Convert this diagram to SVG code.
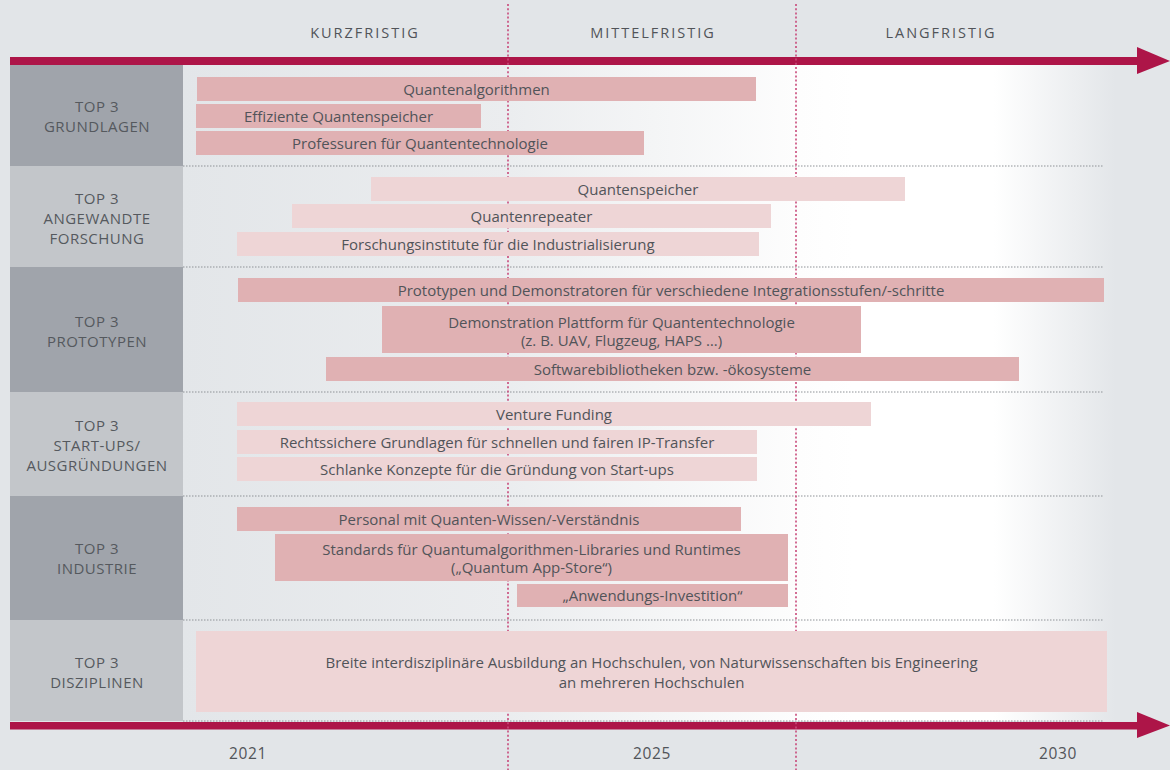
<svg xmlns="http://www.w3.org/2000/svg" width="1170" height="770" viewBox="0 0 1170 770">
<defs>
<linearGradient id="bgGrad" gradientUnits="userSpaceOnUse" x1="183" y1="0" x2="1115" y2="0">
<stop offset="0" stop-color="#e3e6e9"/>
<stop offset="0.35" stop-color="#ebedef"/>
<stop offset="0.66" stop-color="#fdfdfd"/>
<stop offset="0.72" stop-color="#ffffff"/>
<stop offset="0.87" stop-color="#ffffff"/>
<stop offset="1" stop-color="#e3e6e9"/>
</linearGradient>
<style>
.t{font-family:"Open Sans","Liberation Sans",sans-serif;font-size:15px;fill:#515459;text-anchor:middle}
.lab{font-family:"Open Sans","Liberation Sans",sans-serif;font-size:15px;fill:#55595e;text-anchor:middle;letter-spacing:0.5px}
.hdr{font-family:"Open Sans","Liberation Sans",sans-serif;font-size:14.5px;fill:#515459;text-anchor:middle;letter-spacing:2px}
.yr{font-family:"Open Sans","Liberation Sans",sans-serif;font-size:15.5px;fill:#515459;text-anchor:middle;letter-spacing:0.6px}
.d{fill:#e0b1b3}
.l{fill:#eed5d6}
.cd{fill:#a0a4ab}
.cl{fill:#c3c6ca}
.sep{stroke:#8e9297;stroke-width:1;stroke-dasharray:1.5 1.5;fill:none}
.vl{stroke:#c9497a;stroke-width:1.6;stroke-dasharray:2 2.2;fill:none}
.ax{fill:#ad1548}
</style>
</defs>
<rect x="0" y="0" width="1170" height="770" fill="#e2e5e8"/>
<rect x="183" y="65" width="987" height="656" fill="url(#bgGrad)"/>

<g id="headers">
<text class="hdr" x="365" y="38">KURZFRISTIG</text>
<text class="hdr" x="653" y="38">MITTELFRISTIG</text>
<text class="hdr" x="941" y="38">LANGFRISTIG</text>
</g>
<g id="years">
<text class="yr" x="248" y="759">2021</text>
<text class="yr" x="652" y="759">2025</text>
<text class="yr" x="1058" y="759">2030</text>
</g>

<g id="connectors">
<line class="sep" x1="183" y1="166" x2="1104" y2="166"/>
<line class="sep" x1="183" y1="267" x2="1104" y2="267"/>
<line class="sep" x1="183" y1="392" x2="1104" y2="392"/>
<line class="sep" x1="183" y1="496" x2="1104" y2="496"/>
<line class="sep" x1="183" y1="620" x2="1104" y2="620"/>
<line class="sep" x1="183" y1="721" x2="1104" y2="721"/>
<rect class="ax" x="10" y="57" width="1130" height="8"/>
<polygon class="ax" points="1137,47 1170,61 1137,74"/>
<rect class="ax" x="10" y="722" width="1130" height="7.5"/>
<polygon class="ax" points="1137,712 1170,725.5 1137,738"/>
<line class="vl" x1="508" y1="4" x2="508" y2="770"/>
<line class="vl" x1="796" y1="4" x2="796" y2="770"/>
</g>

<g id="row-grundlagen">
<rect class="cd" x="10" y="65" width="173" height="101"/>
<text class="lab" x="97" y="112">TOP 3</text>
<text class="lab" x="97" y="132">GRUNDLAGEN</text>
</g>
<g id="row-angewandte">
<rect class="cl" x="10" y="166" width="173" height="101"/>
<text class="lab" x="97" y="204">TOP 3</text>
<text class="lab" x="97" y="224">ANGEWANDTE</text>
<text class="lab" x="97" y="244">FORSCHUNG</text>
</g>
<g id="row-prototypen">
<rect class="cd" x="10" y="267" width="173" height="125"/>
<text class="lab" x="97" y="327">TOP 3</text>
<text class="lab" x="97" y="347">PROTOTYPEN</text>
</g>
<g id="row-startups">
<rect class="cl" x="10" y="392" width="173" height="104"/>
<text class="lab" x="97" y="431">TOP 3</text>
<text class="lab" x="97" y="451">START-UPS/</text>
<text class="lab" x="97" y="471">AUSGRÜNDUNGEN</text>
</g>
<g id="row-industrie">
<rect class="cd" x="10" y="496" width="173" height="124"/>
<text class="lab" x="97" y="554">TOP 3</text>
<text class="lab" x="97" y="574">INDUSTRIE</text>
</g>
<g id="row-disziplinen">
<rect class="cl" x="10" y="620" width="173" height="101"/>
<text class="lab" x="97" y="668">TOP 3</text>
<text class="lab" x="97" y="688">DISZIPLINEN</text>
</g>

<g id="bar-quantenalgorithmen"><rect class="d" x="197" y="77" width="559" height="24"/><text class="t" x="476.5" y="94.5">Quantenalgorithmen</text></g>
<g id="bar-quantenspeicher-eff"><rect class="d" x="196" y="104" width="285" height="24"/><text class="t" x="338.5" y="121.5">Effiziente Quantenspeicher</text></g>
<g id="bar-professuren"><rect class="d" x="196" y="131" width="448" height="24"/><text class="t" x="420" y="148.5">Professuren für Quantentechnologie</text></g>

<g id="bar-quantenspeicher"><rect class="l" x="371" y="177" width="534" height="24"/><text class="t" x="638" y="194.5">Quantenspeicher</text></g>
<g id="bar-quantenrepeater"><rect class="l" x="292" y="204" width="479" height="24"/><text class="t" x="531.5" y="221.5">Quantenrepeater</text></g>
<g id="bar-forschungsinstitute"><rect class="l" x="237" y="232" width="522" height="24"/><text class="t" x="498" y="249.5">Forschungsinstitute für die Industrialisierung</text></g>

<g id="bar-prototypen"><rect class="d" x="238" y="278" width="866" height="24"/><text class="t" x="671" y="295.5">Prototypen und Demonstratoren für verschiedene Integrationsstufen/-schritte</text></g>
<g id="bar-plattform"><rect class="d" x="382" y="306" width="479" height="47"/><text class="t" x="621.5" y="328">Demonstration Plattform für Quantentechnologie</text><text class="t" x="621.5" y="346">(z. B. UAV, Flugzeug, HAPS …)</text></g>
<g id="bar-software"><rect class="d" x="326" y="357" width="693" height="24"/><text class="t" x="672.5" y="374.5">Softwarebibliotheken bzw. -ökosysteme</text></g>

<g id="bar-venture"><rect class="l" x="237" y="402" width="634" height="24"/><text class="t" x="554" y="419.5">Venture Funding</text></g>
<g id="bar-ip"><rect class="l" x="237" y="430" width="520" height="24"/><text class="t" x="497" y="447.5">Rechtssichere Grundlagen für schnellen und fairen IP-Transfer</text></g>
<g id="bar-startups"><rect class="l" x="237" y="457" width="520" height="24"/><text class="t" x="497" y="474.5">Schlanke Konzepte für die Gründung von Start-ups</text></g>

<g id="bar-personal"><rect class="d" x="237" y="507" width="504" height="24"/><text class="t" x="489" y="524.5">Personal mit Quanten-Wissen/-Verständnis</text></g>
<g id="bar-standards"><rect class="d" x="275" y="534" width="513" height="47"/><text class="t" x="531.5" y="555">Standards für Quantumalgorithmen-Libraries und Runtimes</text><text class="t" x="531.5" y="573">(„Quantum App-Store“)</text></g>
<g id="bar-investition"><rect class="d" x="517" y="584" width="271" height="23"/><text class="t" x="652.5" y="601">„Anwendungs-Investition“</text></g>

<g id="bar-ausbildung"><rect class="l" x="196" y="631" width="911" height="81"/><text class="t" x="651.5" y="668">Breite interdisziplinäre Ausbildung an Hochschulen, von Naturwissenschaften bis Engineering</text><text class="t" x="651.5" y="688">an mehreren Hochschulen</text></g>
</svg>
